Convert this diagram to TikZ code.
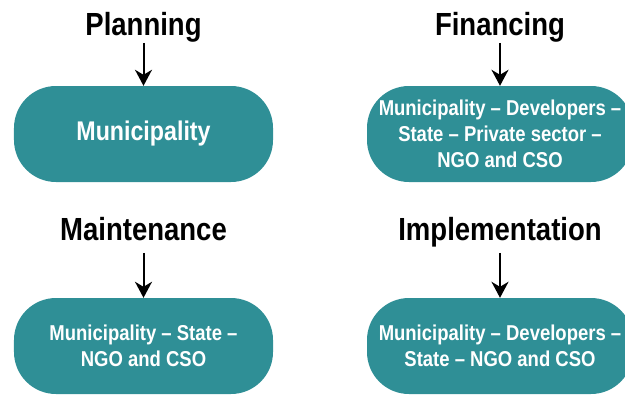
\documentclass[tikz,border=0pt]{standalone}
\usepackage{fontspec}
\setmainfont{Liberation Sans}[FakeStretch=0.86]
\usetikzlibrary{positioning,arrows.meta}
\definecolor{roleteal}{RGB}{47,143,150}

\begin{document}
\begin{tikzpicture}[x=1bp, y=1bp,
  role/.style={fill=roleteal, rounded corners=42bp, minimum width=259bp, minimum height=96bp, text=white, align=center, font=\bfseries\fontsize{21.5bp}{26bp}\selectfont},
  stage/.style={inner sep=0pt, anchor=base, font=\bfseries\fontsize{32bp}{36bp}\selectfont},
  link/.style={-{Stealth[length=16bp, width=17bp, inset=5bp]}, line width=2bp}]
\useasboundingbox (0,0) rectangle (625,396);

% top row
\node (plan) [role, font=\bfseries\fontsize{27bp}{30bp}\selectfont] at (143.5,262) {Municipality};
\node (fin) [role, minimum width=266bp] at (500,262) {Municipality -- Developers --\\State -- Private sector --\\NGO and CSO};
\node (planT) [stage, above=50bp of plan.north, anchor=base] {Planning};
\node (finT) [stage, above=50bp of fin.north, anchor=base] {Financing};

% bottom row
\node (maint) [role] at (143.5,50) {Municipality -- State --\\NGO and CSO};
\node (impl) [role, minimum width=266bp] at (500,50) {Municipality -- Developers --\\State -- NGO and CSO};
\node (maintT) [stage, above=57bp of maint.north, anchor=base] {Maintenance};
\node (implT) [stage, above=57bp of impl.north, anchor=base] {Implementation};

\draw[link] ([yshift=-7bp]planT.base) -- (plan.north);
\draw[link] ([yshift=-7bp]finT.base) -- (fin.north);
\draw[link] ([yshift=-12bp]maintT.base) -- (maint.north);
\draw[link] ([yshift=-12bp]implT.base) -- (impl.north);
\end{tikzpicture}
\end{document}
